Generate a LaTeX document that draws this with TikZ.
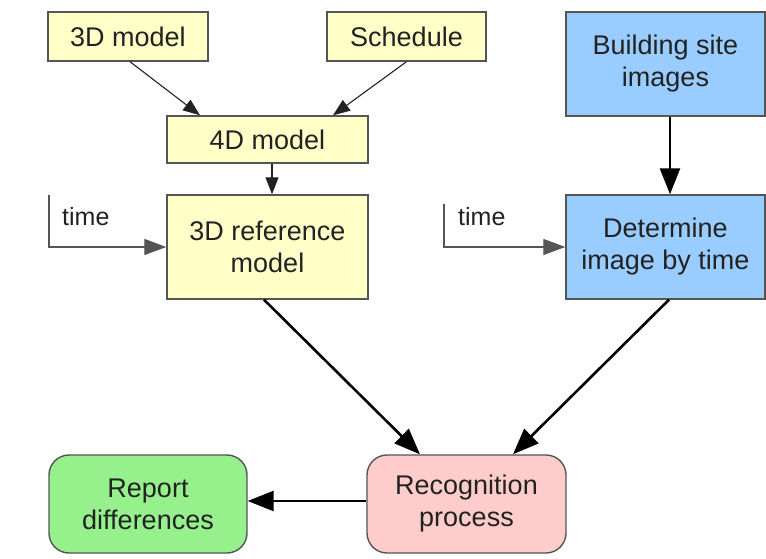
\documentclass[tikz,border=0pt]{standalone}
\usepackage{fontspec}
\setmainfont{Liberation Sans}
\usetikzlibrary{arrows.meta}
\definecolor{ylw}{RGB}{255,255,200}
\definecolor{blu}{RGB}{153,204,255}
\definecolor{grn}{RGB}{150,240,140}
\definecolor{pnk}{RGB}{255,204,204}
\definecolor{edge}{RGB}{85,85,85}
\definecolor{txt}{RGB}{34,34,34}
\begin{document}
\begin{tikzpicture}[x=1pt,y=-1pt,
  box/.style={draw=edge,line width=1.4pt,text=txt,align=center,inner sep=0pt,
    font=\fontsize{27}{32}\selectfont},
  rbox/.style={box,rounded corners=20pt},
  thin arrow/.style={draw=txt,line width=1.1pt,-{Triangle[length=17pt,width=13pt]}},
  thick arrow/.style={draw=black,line width=2.6pt,-{Triangle[length=26pt,width=20pt]}},
  time arrow/.style={draw=edge,line width=1.3pt,-{Triangle[length=22pt,width=16pt]}},
  lbl/.style={text=txt,anchor=west,inner sep=0pt,font=\fontsize{25}{29}\selectfont}]
\useasboundingbox[fill=white] (0,0) rectangle (766,559);
\node[box,fill=ylw,minimum width=160pt,minimum height=49pt] (m3d) at (128,36.5) {3D model};
\node[box,fill=ylw,minimum width=159pt,minimum height=49pt] (sched) at (406.5,36.5) {Schedule};
\node[box,fill=ylw,minimum width=201pt,minimum height=47pt] (m4d) at (267.5,139.5) {4D model};
\node[box,fill=ylw,minimum width=201pt,minimum height=104pt] (ref) at (267.5,247) {3D reference\\model};
\node[box,fill=blu,minimum width=199pt,minimum height=104pt] (bsi) at (665.5,64) {Building site\\images};
\node[box,fill=blu,minimum width=199pt,minimum height=104pt] (det) at (665.5,247) {Determine\\image by time};
\node[rbox,fill=pnk,minimum width=199pt,minimum height=98pt] (rec) at (466.5,504) {Recognition\\process};
\node[rbox,fill=grn,minimum width=198pt,minimum height=98pt] (rep) at (148,504) {Report\\differences};
\coordinate (tl) at (49,195);
\coordinate (tr) at (444,204);
\node[lbl] (tll) at (62,217) {time};
\node[lbl] (trl) at (458,217) {time};
\draw[thin arrow] ([xshift=2pt]m3d.south) -- ([xshift=-67.5pt]m4d.north);
\draw[thin arrow] (sched.south) -- ([xshift=65.5pt]m4d.north);
\draw[thin arrow] ([xshift=4.5pt]m4d.south) -- ([xshift=4.5pt]ref.north);
\draw[thick arrow] ([xshift=4.5pt]bsi.south) -- ([xshift=4.5pt]det.north);
\draw[time arrow] (tl) |- (ref.west);
\draw[time arrow] (tr) |- (det.west);
\draw[thick arrow] ([xshift=-3.5pt]ref.south) -- ([xshift=-46.5pt]rec.north);
\draw[thick arrow] ([xshift=3.5pt]det.south) -- ([xshift=46.5pt]rec.north);
\draw[thick arrow] ([yshift=3pt]rec.west) -- ([yshift=3pt]rep.east);
\end{tikzpicture}
\end{document}
